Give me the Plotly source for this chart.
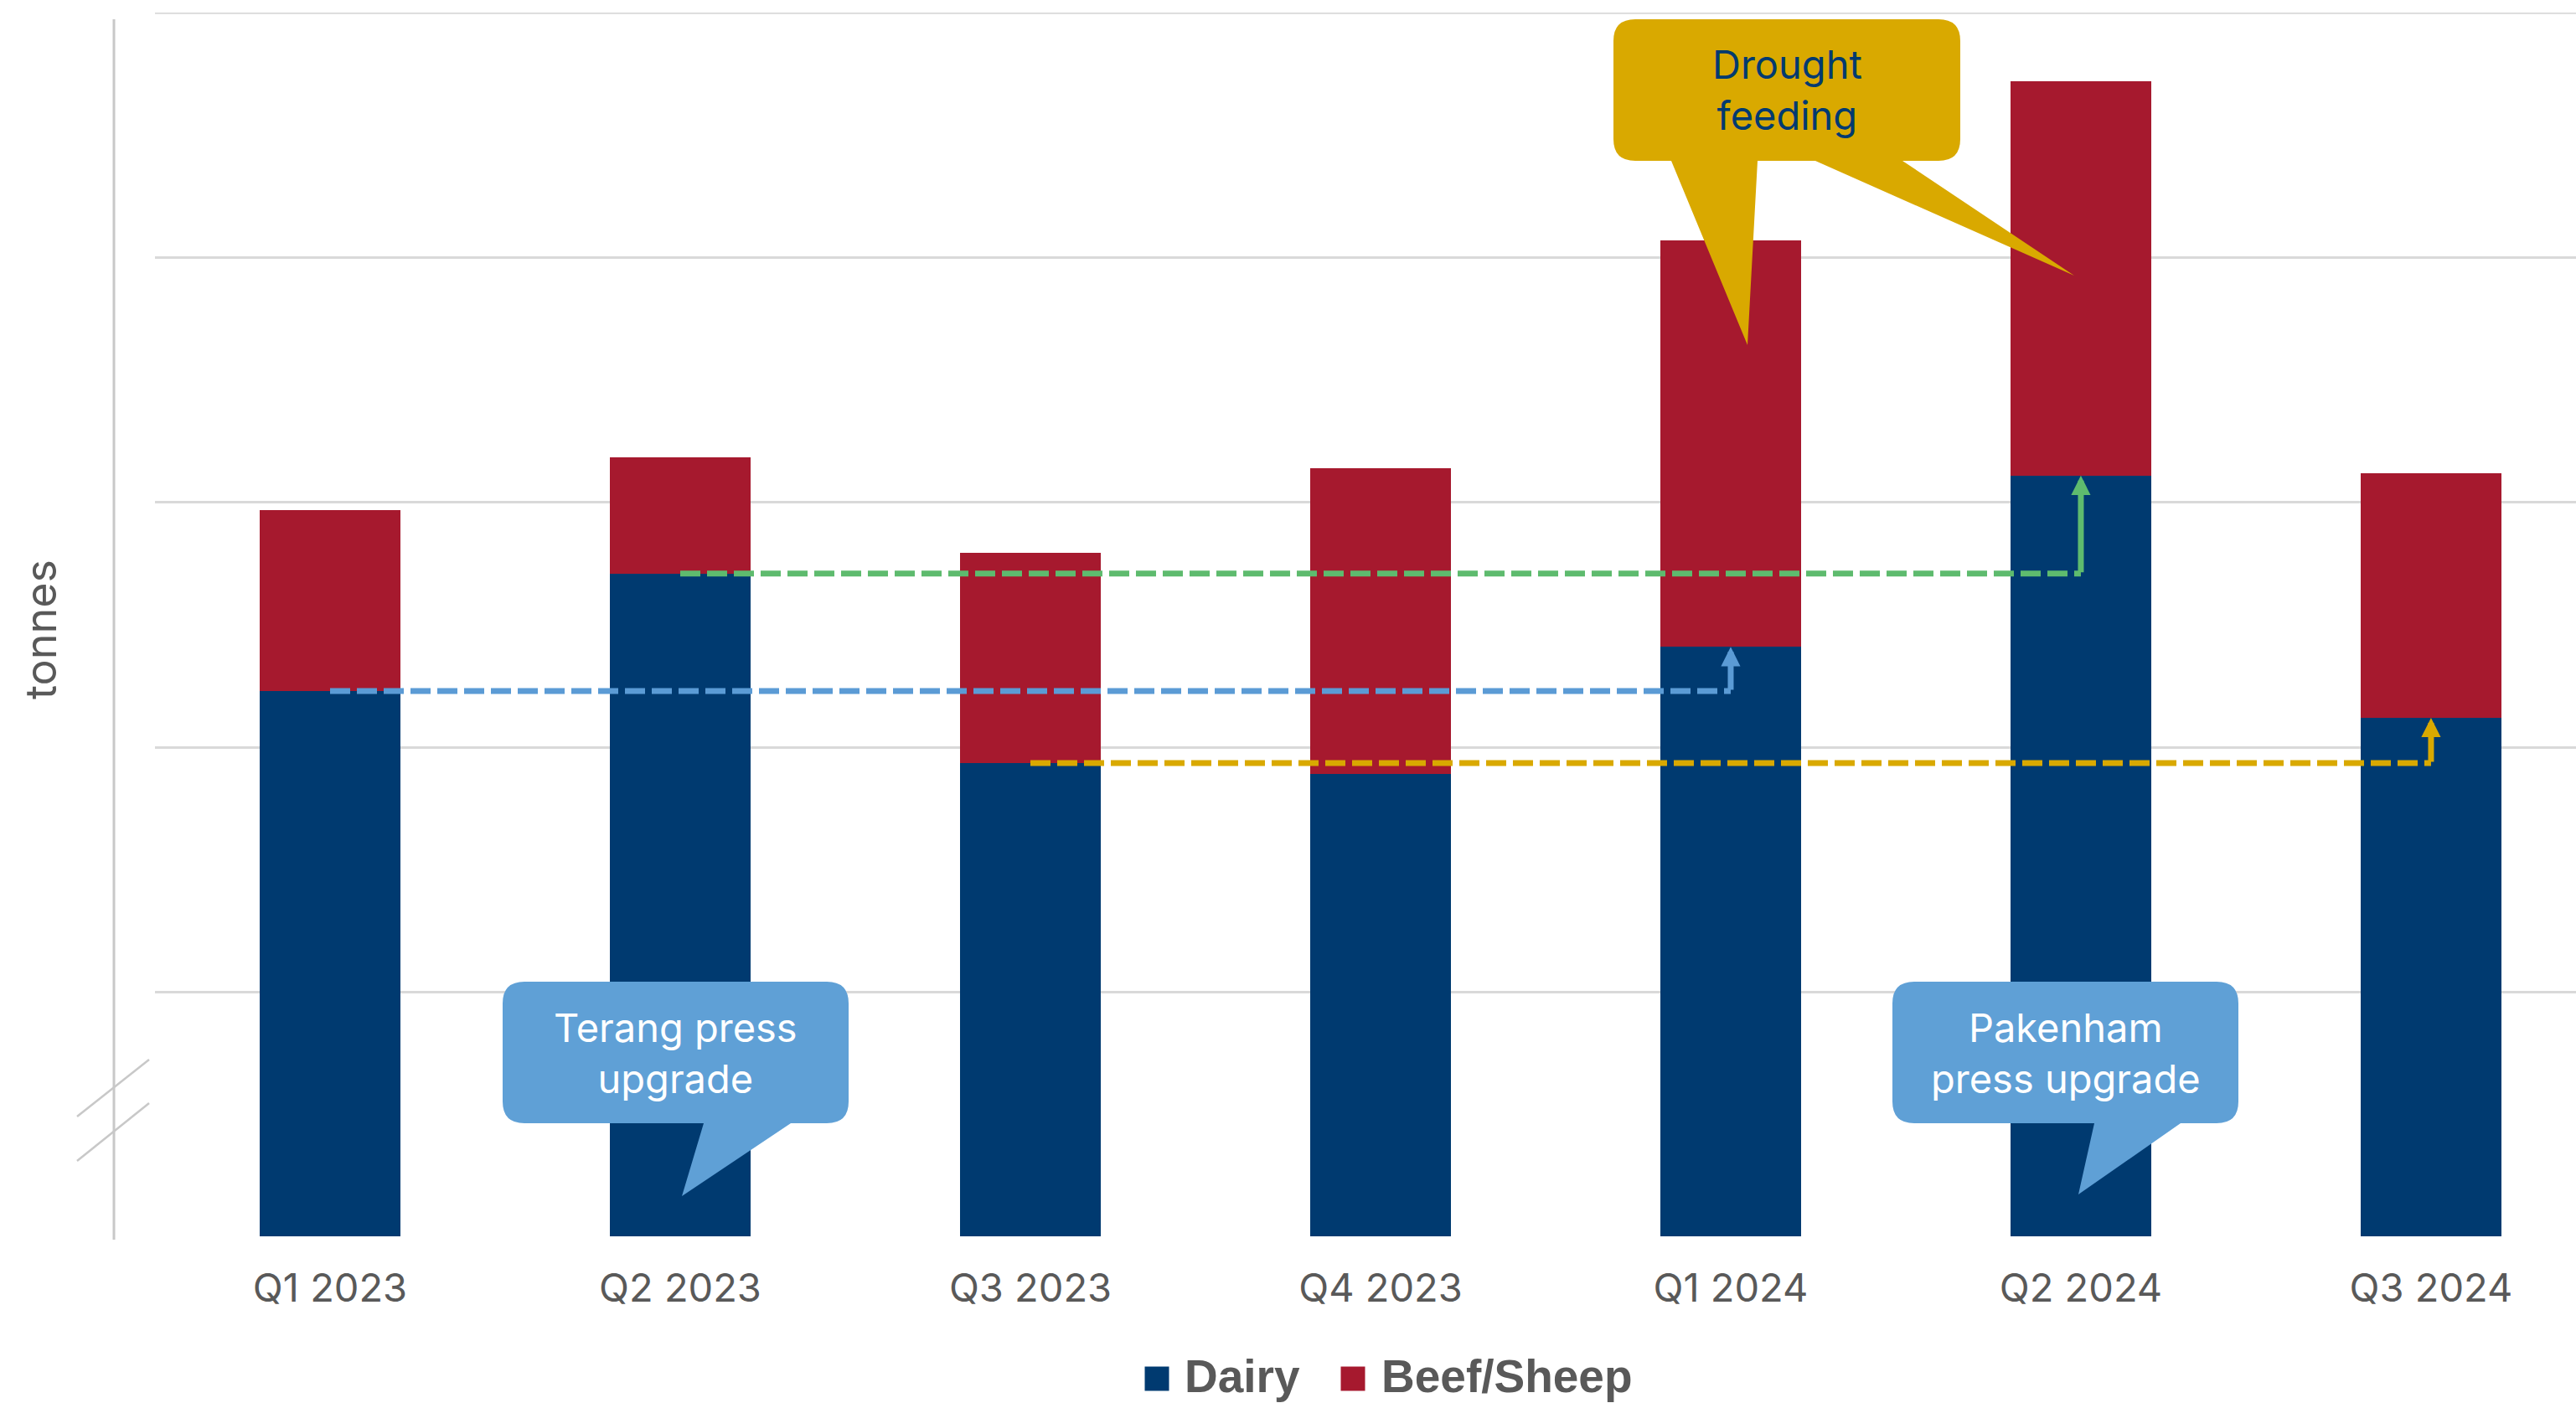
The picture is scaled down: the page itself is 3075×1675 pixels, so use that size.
import plotly.graph_objects as go

# ---------------- data ----------------
quarters = ["Q1 2023", "Q2 2023", "Q3 2023", "Q4 2023", "Q1 2024", "Q2 2024", "Q3 2024"]
dairy = [2230, 2710, 1935, 1890, 2410, 3110, 2120]
beef_sheep = [740, 475, 860, 1250, 1660, 1610, 1000]

# year-on-year comparisons (from index -> to index)
compare_from = [0, 1, 2]
compare_to = [4, 5, 6]
compare_colors = ["#5B9BD5", "#5EBB6E", "#D9A900"]

DAIRY_COLOR = "#003A70"
BEEF_COLOR = "#A6192E"
TEXT_GREY = "#595959"
GRID = "#D9D9D9"
FONT = "Inter"

# ---------------- layout geometry ----------------
W, H = 3075, 1675
ML, MR, MT, MB = 185, 0, 15, 198
PW, PH = W - ML - MR, H - MT - MB


def px(x):
    return (x - ML) / PW


def py(y):
    return (H - MB - y) / PH


fig = go.Figure()
xs = list(range(len(quarters)))
fig.add_bar(x=xs, y=dairy, name="Dairy", marker=dict(color=DAIRY_COLOR, line=dict(width=0)),
            width=0.4, showlegend=False)
fig.add_bar(x=xs, y=beef_sheep, name="Beef/Sheep", marker=dict(color=BEEF_COLOR, line=dict(width=0)),
            width=0.4, showlegend=False)

for a, b, c in zip(compare_from, compare_to, compare_colors):
    fig.add_scatter(x=[a, b], y=[dairy[a], dairy[a]], mode="lines",
                    line=dict(color=c, width=7, dash="24px,8px"),
                    hoverinfo="skip", showlegend=False)
    fig.add_annotation(x=b, y=dairy[b], ax=b, ay=dairy[a], xref="x", yref="y",
                       axref="x", ayref="y", showarrow=True, arrowhead=2,
                       arrowsize=0.66, arrowwidth=7, arrowcolor=c, text="")


# ---------------- callouts ----------------
def callout(x0, y0, x1, y1, r, tails, fill):
    d = (f"M{px(x0 + r)},{py(y0)} L{px(x1 - r)},{py(y0)} "
         f"Q{px(x1)},{py(y0)} {px(x1)},{py(y0 + r)} L{px(x1)},{py(y1 - r)} "
         f"Q{px(x1)},{py(y1)} {px(x1 - r)},{py(y1)}")
    for bl, br, tx, ty in sorted(tails, reverse=True):
        d += f" L{px(br)},{py(y1)} L{px(tx)},{py(ty)} L{px(bl)},{py(y1)}"
    d += (f" L{px(x0 + r)},{py(y1)} Q{px(x0)},{py(y1)} {px(x0)},{py(y1 - r)} "
          f"L{px(x0)},{py(y0 + r)} Q{px(x0)},{py(y0)} {px(x0 + r)},{py(y0)} Z")
    fig.add_shape(type="path", path=d, xref="paper", yref="paper",
                  fillcolor=fill, line=dict(width=0), layer="above")


callouts = [
    dict(box=(600, 1172, 1013, 1341), tails=[(840, 944, 814, 1428)], fill="#5FA0D6",
         text="Terang press<br>upgrade", color="white"),
    dict(box=(2259, 1172, 2672, 1341), tails=[(2500, 2603, 2481, 1426)], fill="#5FA0D6",
         text="Pakenham<br>press upgrade", color="white"),
    dict(box=(1926, 23, 2340, 192), tails=[(1995, 2098, 2086, 412), (2167, 2271, 2476, 329)],
         fill="#D9A900", text="Drought<br>feeding", color=DAIRY_COLOR),
]
for co in callouts:
    x0, y0, x1, y1 = co["box"]
    callout(x0, y0, x1, y1, 26, co["tails"], co["fill"])
    fig.add_annotation(x=px((x0 + x1) / 2), y=py((y0 + y1) / 2), xref="paper", yref="paper",
                       text=co["text"], showarrow=False, align="center",
                       xanchor="center", yanchor="middle",
                       font=dict(family=FONT, size=47, color=co["color"]))

# ---------------- axis decorations ----------------
AX = "#C8C8C8"
# top gridline (at the top of the value range)
fig.add_shape(type="line", xref="paper", yref="y", x0=0, x1=1, y0=5000, y1=5000,
              line=dict(color=GRID, width=2.5), layer="below")
fig.add_shape(type="line", xref="paper", yref="paper", x0=px(136), x1=px(136),
              y0=py(23), y1=py(1480), line=dict(color=AX, width=3))
fig.add_shape(type="line", xref="paper", yref="paper", x0=px(92), y0=py(1333),
              x1=px(178), y1=py(1265), line=dict(color=AX, width=2.5))
fig.add_shape(type="line", xref="paper", yref="paper", x0=px(92), y0=py(1386),
              x1=px(178), y1=py(1317), line=dict(color=AX, width=2.5))

fig.add_annotation(x=px(48), y=py(752), xref="paper", yref="paper", text="tonnes",
                   textangle=-90, showarrow=False, xanchor="center", yanchor="middle",
                   font=dict(family=FONT, size=52, color=TEXT_GREY))

# ---------------- manual legend ----------------
legend_items = [("Dairy", DAIRY_COLOR, 1381, 1412), ("Beef/Sheep", BEEF_COLOR, 1615, 1647)]
for name, col, cx, tx in legend_items:
    fig.add_shape(type="rect", xref="paper", yref="paper", x0=px(cx - 14.5), x1=px(cx + 14.5),
                  y0=py(1646 - 14.5), y1=py(1646 + 14.5), fillcolor=col, line=dict(width=0))
    fig.add_annotation(x=px(tx), y=py(1643), xref="paper", yref="paper", text=f"<b>{name}</b>",
                       showarrow=False, xanchor="left", yanchor="middle",
                       font=dict(family="Liberation Sans, Arial", size=55, color=TEXT_GREY))

fig.update_layout(
    width=W, height=H,
    margin=dict(l=ML, r=MR, t=MT, b=MB, pad=0),
    barmode="stack",
    plot_bgcolor="white", paper_bgcolor="white",
    showlegend=False,
    xaxis=dict(range=[-0.5, 6.414], tickvals=xs, ticktext=quarters, showgrid=False,
               zeroline=False, showline=False, ticks="", ticklabelstandoff=29,
               tickfont=dict(family=FONT, size=47, color=TEXT_GREY)),
    yaxis=dict(range=[-2, 5002], dtick=1000, tick0=0, showticklabels=False,
               showgrid=True, gridcolor=GRID, gridwidth=2.5,
               zeroline=False, showline=False, ticks=""),
)

fig.write_html("out.html")
